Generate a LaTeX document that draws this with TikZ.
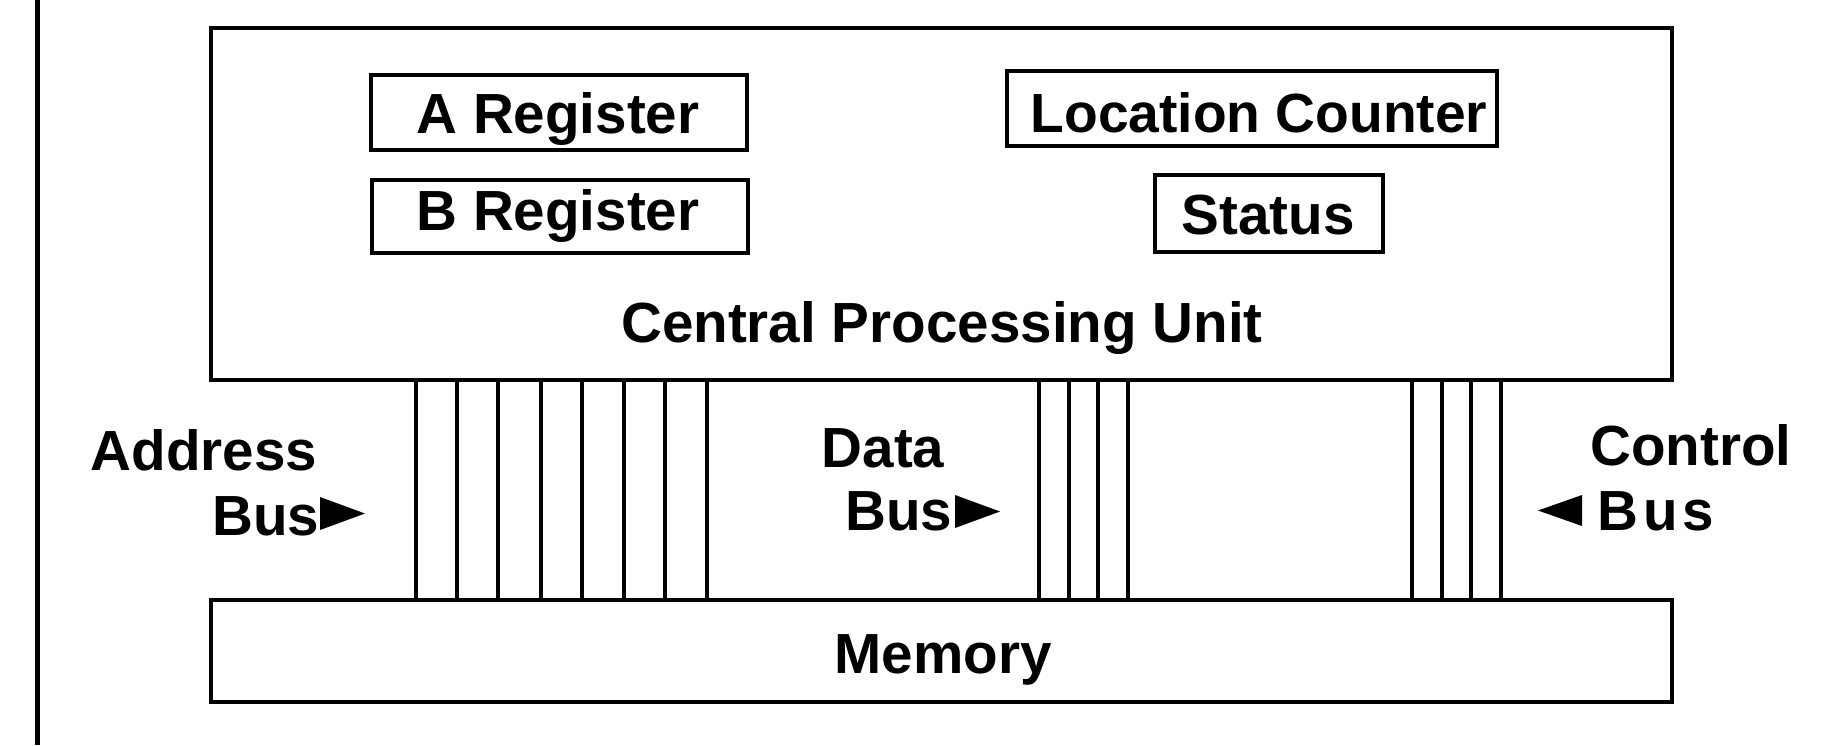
\documentclass[tikz,border=0pt]{standalone}
\usepackage{fontspec}
\setmainfont{Liberation Sans}
\usetikzlibrary{fit}
\begin{document}
\begin{tikzpicture}[x=0.5pt,y=-0.5pt,
  box/.style={draw=black, line width=2.3pt, inner sep=0pt},
  regbox/.style={draw=black, line width=2pt, inner sep=0pt},
  txt/.style={inner sep=0pt, anchor=base, font=\fontsize{28.3}{34}\selectfont\bfseries},
  busline/.style={line width=2pt},
  tri/.style={fill=black}]
\useasboundingbox (0,0) rectangle (1826,745);
% left rail
\coordinate (railtop) at (37,0);
\coordinate (railbot) at (37,745);
\draw[line width=2.5pt] (railtop) -- (railbot);
% main boxes
\node[box, fit={(211,28)(1672,380)}] (cpu) {};
\node[box, fit={(211,600)(1672,702)}] (mem) {};
% registers
\node[regbox, fit={(371,75)(747,150)}] (areg) {};
\node[regbox, fit={(372,180)(748,253)}] (breg) {};
\node[regbox, fit={(1007,71)(1497,146)}] (lc) {};
\node[regbox, fit={(1155,175)(1383,252)}] (st) {};
% texts
\node[txt] (atxt) at (558,133) {A Register};
\node[txt] (btxt) at (558,230) {B Register};
\node[txt, font=\fontsize{27.6}{34}\selectfont\bfseries] (lctxt) at (1259,132) {Location Counter};
\node[txt] (sttxt) at (1268,234) {Status};
\node[txt] (cputxt) at (942,342) {Central Processing Unit};
\node[txt] (memtxt) at (943,673) {Memory};
\node[txt] (addr1) at (204,470) {Address};
\node[txt] (addr2) at (266,535) {Bus};
\node[txt] (data1) at (883,467) {Data};
\node[txt] (data2) at (899,530) {Bus};
\node[txt] (ctrl1) at (1691,465) {Control};
\node[txt] (ctrl2) at (1656,530) {B\kern2.5pt u\kern2.5pt s};
% triangles
\fill[tri] (320,497) -- (320,530) -- (365,513.5) -- cycle;
\fill[tri] (955,495) -- (955,528) -- (1000,511.5) -- cycle;
\fill[tri] (1582,495) -- (1582,526) -- (1538,510.5) -- cycle;
% bus lines
\foreach \x [count=\i] in {416,457,498,541,582,624,665,707,1039,1069,1098,1128,1412,1442,1471,1501} {
  \coordinate (b\i) at (\x,0);
  \draw[busline] (cpu.south -| b\i) -- (mem.north -| b\i);
}
\end{tikzpicture}
\end{document}
